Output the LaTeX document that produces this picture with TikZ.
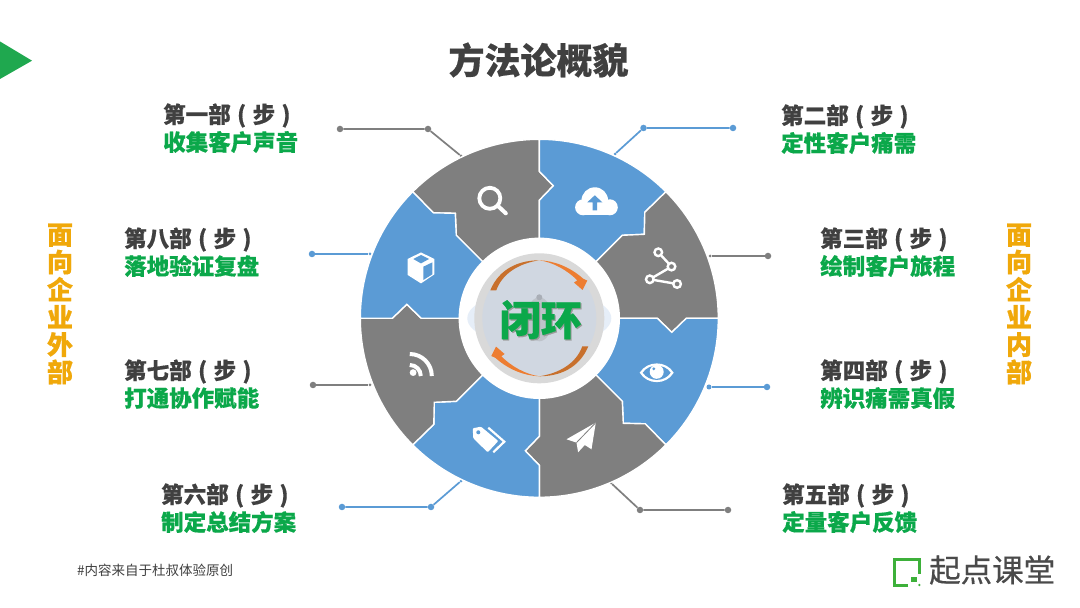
\documentclass[tikz,border=0pt]{standalone}
\usepackage{fontspec}
\setmainfont{Noto Sans CJK SC}[WordSpace = 1.25, BoldFeatures = {FakeBold = 0.5}]
\newfontfamily\brandfont{Noto Sans CJK SC}[FakeBold = 0.5]
\tikzset{
  steptext/.style = {anchor = west, inner sep = 0pt, text = titlegrey, font = \bfseries\fontsize{22.5}{27}\selectfont},
  goaltext/.style = {anchor = west, inner sep = 0pt, text = goalgreen, font = \bfseries\fontsize{22.5}{27}\selectfont},
  sidetext/.style = {inner sep = 0pt, align = center, text = sideyellow, font = \bfseries\fontsize{26}{27.5}\selectfont},
  greydot/.style = {circle, fill = lineGrey, inner sep = 0pt, minimum size = 6.5pt},
  bluedot/.style = {circle, fill = wheelBlue, inner sep = 0pt, minimum size = 6.5pt},
  greyend/.style = {circle, fill = lineGrey, inner sep = 0pt, minimum size = 3pt},
  blueend/.style = {circle, fill = wheelBlue, inner sep = 0pt, minimum size = 3pt},
  greyline/.style = {draw = lineGrey, line width = 1.7pt},
  blueline/.style = {draw = wheelBlue, line width = 1.7pt},
  iconline/.style = {draw = white, line width = 2.4pt, line cap = round}
}
\newcommand{\greypiece}[1]{
\fill[wheelGrey, draw = white, line width = 1.4pt, rotate = #1] (135:80) -- (-83,83) -- (-84,105) -- (-106,105.5) -- (135:179) arc[start angle = 135, end angle = 90, radius = 179] -- (0,147) -- (14,132.5) -- (0,118) -- (90:80) arc[start angle = 90, end angle = 135, radius = 80] -- cycle;
}
\newcommand{\bluepiece}[1]{
\fill[wheelBlue, draw = white, line width = 1.4pt, rotate = #1] (90:80) -- (0,118) -- (14,132.5) -- (0,147) -- (90:179) arc[start angle = 90, end angle = 45, radius = 179] -- (105.5,106) -- (105,84) -- (83,83) -- (45:80) arc[start angle = 45, end angle = 90, radius = 80] -- cycle;
}
\begin{document}
\begin{tikzpicture}[x = 1pt, y = 1pt]
\definecolor{titlegrey}{HTML}{404040}
\definecolor{goalgreen}{HTML}{0BA84A}
\definecolor{sideyellow}{HTML}{F0A80A}
\definecolor{wheelGrey}{HTML}{7F7F7F}
\definecolor{lineGrey}{HTML}{7F7F7F}
\definecolor{wheelBlue}{HTML}{5B9BD5}
\definecolor{markgreen}{HTML}{1FA84F}
\definecolor{logogreen}{HTML}{3DB03A}
\definecolor{logogrey}{HTML}{4A4A4A}
\definecolor{orangedark}{HTML}{C8702C}
\definecolor{orangelight}{HTML}{ED7D31}
\definecolor{lenscol}{HTML}{E6EEF8}
\definecolor{discouter}{HTML}{D9D9D9}
\definecolor{discinner}{HTML}{D0D7E1}
\definecolor{pincol}{HTML}{BEC3CA}
\definecolor{knobcol}{HTML}{A9AEB6}
\definecolor{shadowcol}{HTML}{9A9A9A}
\useasboundingbox (0,0) rectangle (1080,608);
\fill[white] (0,0) rectangle (1080,608);

\fill[markgreen] (0,566.5) -- (32,547.3) -- (0,529) -- cycle;
\node[inner sep = 0pt, text = titlegrey, font = \bfseries\fontsize{36}{40}\selectfont] (title) at (538.5,548) {方法论概貌};

\node[steptext] (step1) at (163,492.5) {第一部 ( 步 )};
\node[goaltext] (goal1) at (163,466) {收集客户声音};
\node[steptext] (step2) at (781,491.5) {第二部 ( 步 )};
\node[goaltext] (goal2) at (781,465) {定性客户痛需};
\node[steptext] (step3) at (820,368.5) {第三部 ( 步 )};
\node[goaltext] (goal3) at (820,342) {绘制客户旅程};
\node[steptext] (step4) at (820,236.5) {第四部 ( 步 )};
\node[goaltext] (goal4) at (820,210) {辨识痛需真假};
\node[steptext] (step5) at (782,112.5) {第五部 ( 步 )};
\node[goaltext] (goal5) at (782,86) {定量客户反馈};
\node[steptext] (step6) at (161,112.5) {第六部 ( 步 )};
\node[goaltext] (goal6) at (161,86) {制定总结方案};
\node[steptext] (step7) at (124,236.5) {第七部 ( 步 )};
\node[goaltext] (goal7) at (124,210) {打通协作赋能};
\node[steptext] (step8) at (124,368.5) {第八部 ( 步 )};
\node[goaltext] (goal8) at (124,342) {落地验证复盘};

\node[sidetext] (outside) at (60,304) {面\\向\\企\\业\\外\\部};
\node[sidetext] (inside) at (1019,304) {面\\向\\企\\业\\内\\部};

\node[greydot] (a1) at (340,479) {};
\node[greydot] (b1) at (428,479) {};
\node[greyend] (c1) at (461,452) {};
\draw[greyline] (a1) -- (b1) -- (c1);
\node[bluedot] (a2) at (733,480) {};
\node[bluedot] (b2) at (643.5,480) {};
\node[blueend] (c2) at (615,454) {};
\draw[blueline] (a2) -- (b2) -- (c2);
\node[greydot] (a3) at (768,352) {};
\node[greyend] (c3) at (710,352) {};
\draw[greyline] (a3) -- (c3);
\node[bluedot] (a4) at (767,221) {};
\node[bluedot, minimum size = 5pt] (c4) at (709,221) {};
\draw[blueline] (a4) -- (c4);
\node[greydot] (a5) at (728,98) {};
\node[greydot] (b5) at (640,98) {};
\node[greyend] (c5) at (611,125) {};
\draw[greyline] (a5) -- (b5) -- (c5);
\node[bluedot] (a6) at (342,101) {};
\node[bluedot] (b6) at (431,101) {};
\node[blueend] (c6) at (461,127) {};
\draw[blueline] (a6) -- (b6) -- (c6);
\node[greydot] (a7) at (313,223) {};
\node[greyend] (c7) at (370,223) {};
\draw[greyline] (a7) -- (c7);
\node[bluedot] (a8) at (312,354) {};
\node[blueend] (c8) at (370,354) {};
\draw[blueline] (a8) -- (c8);

\begin{scope}[shift = {(539.3,289.7)}]
\greypiece{0}
\bluepiece{0}
\greypiece{-90}
\bluepiece{-90}
\greypiece{-180}
\bluepiece{-180}
\greypiece{-270}
\bluepiece{-270}

\fill[white] (0,0) circle (80);
\fill[lenscol] (0,0) ellipse (72 and 28);
\fill[discouter] (0,0) circle (65);
\fill[discinner] (0,0) circle (57);
\fill[pincol] (0,-1) ellipse (13 and 22);
\fill[knobcol] (0,21) circle (3);

\fill[orangedark] (-49,28) .. controls (-40,50) and (-20,58) .. (0,58) .. controls (-20,55) and (-37,45) .. (-43,28) -- cycle;
\fill[orangelight] (0,58) .. controls (14,57.5) and (30,52) .. (44,39.5) -- (48,37.7) -- (43.3,28.3) -- (34.7,35.7) -- (38,38) .. controls (28,48) and (14,56) .. (0,58) -- cycle;
\fill[orangedark] (49,-28) .. controls (40,-50) and (20,-58) .. (0,-58) .. controls (20,-55) and (37,-45) .. (43,-28) -- cycle;
\fill[orangelight] (0,-58) .. controls (-14,-57.5) and (-30,-52) .. (-44,-39.5) -- (-48,-37.7) -- (-43.3,-28.3) -- (-34.7,-35.7) -- (-38,-38) .. controls (-28,-48) and (-14,-56) .. (0,-58) -- cycle;

\node[inner sep = 0pt, text = shadowcol, font = \bfseries\fontsize{41}{45}\selectfont] (closedshadow) at (2.6,-2.6) {闭环};
\node[inner sep = 0pt, text = goalgreen, font = \bfseries\fontsize{41}{45}\selectfont] (closed) at (1.4,-1.4) {闭环};

\draw[iconline, line width = 3.8pt] (-49.5,120) circle (10.5);
\draw[iconline, line width = 4pt] (-41,112) -- (-33.5,105);

\fill[white] (55.5,117.7) circle (13.3);
\fill[white] (43.8,111) circle (8);
\fill[white] (70.5,111) circle (8);
\fill[white] (43.8,103) rectangle (70.5,113);
\fill[wheelBlue] (55.5,123) -- (63,116) -- (57.7,116) -- (57.7,108) -- (53.3,108) -- (53.3,116) -- (48,116) -- cycle;

\draw[iconline] (119,66) -- (132.2,51.7) -- (110.5,39) -- (137.8,34.3);
\draw[white, line width = 2.4pt, fill = wheelGrey] (119,66) circle (3.8) (132.2,51.7) circle (3.8) (110.5,39) circle (3.8) (137.8,34.3) circle (3.8);

\fill[white] (100.4,-54.4) .. controls (108,-42) and (127,-42) .. (134.4,-54.4) .. controls (127,-67) and (108,-67) .. (100.4,-54.4) -- cycle;
\fill[wheelBlue] (103.4,-54.4) .. controls (110,-45) and (125,-45) .. (131.4,-54.4) .. controls (125,-64) and (110,-64) .. (103.4,-54.4) -- cycle;
\fill[white] (117.4,-53.5) circle (7);
\fill[wheelBlue] (114.5,-50.5) circle (1.6);

\fill[white] (56.5,-104.3) -- (27.2,-121) -- (37.2,-124.3) -- (38.8,-134) -- (45.5,-126.7) -- (52.2,-131) -- cycle;
\draw[wheelGrey, line width = 0.8pt] (56.5,-104.3) -- (37.2,-124.3);

\fill[white, rounded corners = 1pt] (-66.6,-110) -- (-58.3,-108.4) -- (-41,-122.7) -- (-51.6,-134) -- (-66,-120) -- cycle;
\fill[wheelBlue] (-61,-114) circle (2);
\draw[white, line width = 2.2pt] (-51,-109.4) -- (-35,-123.4) -- (-46,-134);

\fill[white] (-126.2,-54.3) circle (3.4);
\draw[white, line width = 4pt] (-129.5,-46.7) arc[start angle = 90, end angle = 0, radius = 11];
\draw[white, line width = 4pt] (-129.5,-35.7) arc[start angle = 90, end angle = 0, radius = 22];

\fill[white] (-118.3,65.9) -- (-105,59.3) -- (-105,43.9) -- (-118.3,34.9) -- (-131.6,43.3) -- (-131.6,59.3) -- cycle;
\fill[wheelBlue] (-126,59.3) -- (-118.3,63.3) -- (-110.3,59.3) -- (-118.3,54.9) -- cycle;
\fill[wheelBlue] (-116,51.6) -- (-107,55.9) -- (-107,43.9) -- (-116,38.3) -- cycle;
\end{scope}

\node[inner sep = 0pt, anchor = west, text = titlegrey, font = \fontsize{13.5}{16}\selectfont] (source) at (77,38) {\#内容来自于杜叔体验原创};

\draw[logogreen, line width = 3pt] (908,22.8) -- (894.2,22.8) -- (894.2,48.2) -- (919.2,48.2) -- (919.2,34);
\fill[logogreen] (910.7,25.7) rectangle (916.7,31.3);
\fill[logogreen] (919.3,23) circle (1.3);
\node[inner sep = 0pt, anchor = west, text = logogrey, font = \brandfont\fontsize{31.5}{34}\selectfont] (brand) at (929,38) {起点课堂};
\end{tikzpicture}
\end{document}
